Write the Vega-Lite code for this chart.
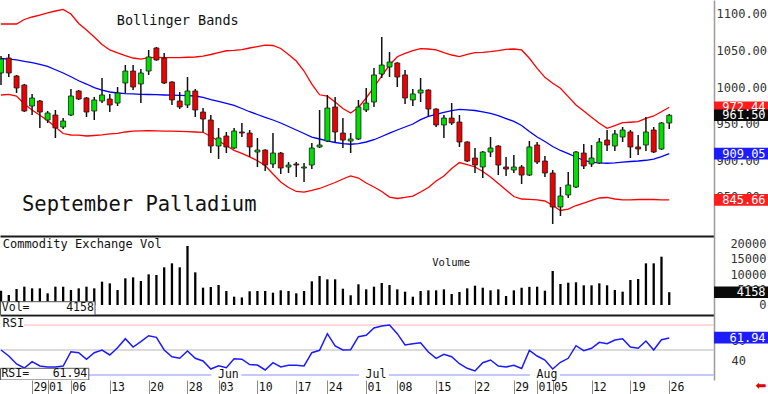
{
  "$schema": "https://vega.github.io/schema/vega-lite/v6.json",
  "padding": 0,
  "background": "white",
  "spacing": 0,
  "bounds": "flush",
  "config": {"view": {"stroke": null}, "font": "DejaVu Sans Mono", "text": {"font": "DejaVu Sans Mono"}, "scale": {"continuousPadding": 0}, "axisX": {"labelOverlap": false}},
  "resolve": {"scale": {"x": "independent", "y": "independent", "color": "independent", "strokeWidth": "independent"}},
  "datasets": {
    "d": [
{"k":0,"o":1019.3,"h":1042.5,"l":1002.9,"c":1038.4,"up":1086.3,"mid":1039.1,"lo":989.2,"vol":4650,"rsi":50},
{"k":1,"o":1039.8,"h":1045.3,"l":1013.8,"c":1019.3,"up":1086.3,"mid":1038.4,"lo":990.1,"vol":3250,"rsi":44},
{"k":2,"o":1015.2,"h":1016.6,"l":991.9,"c":998.8,"up":1086.3,"mid":1037.1,"lo":987.8,"vol":5200,"rsi":36},
{"k":3,"o":1002.9,"h":1004.3,"l":966,"c":967.3,"up":1092.5,"mid":1035.3,"lo":976.9,"vol":5950,"rsi":32},
{"k":4,"o":974.1,"h":990.6,"l":961.8,"c":985.1,"up":1095.9,"mid":1033.6,"lo":968.7,"vol":5410,"rsi":38.3},
{"k":5,"o":981,"h":982.4,"l":944.1,"c":965.9,"up":1098.6,"mid":1031.2,"lo":961.4,"vol":5410,"rsi":34},
{"k":6,"o":955,"h":967.3,"l":950.9,"c":964.6,"up":1101.4,"mid":1028.2,"lo":954.4,"vol":3790,"rsi":33},
{"k":7,"o":961.8,"h":968.7,"l":930.4,"c":944.1,"up":1104.1,"mid":1023.7,"lo":945.4,"vol":5950,"rsi":33},
{"k":8,"o":945.4,"h":957.7,"l":942.7,"c":953.6,"up":1106.2,"mid":1019.3,"lo":936.5,"vol":5950,"rsi":34},
{"k":9,"o":961.8,"h":997.4,"l":960.4,"c":987.8,"up":1100,"mid":1014.2,"lo":934.5,"vol":4870,"rsi":48.3},
{"k":10,"o":994.7,"h":996,"l":982.4,"c":983.7,"up":1087,"mid":1008.7,"lo":934.2,"vol":5410,"rsi":47.3},
{"k":11,"o":985.1,"h":986.5,"l":959.1,"c":965.9,"up":1078.1,"mid":1004.2,"lo":933.1,"vol":5950,"rsi":40.7},
{"k":12,"o":967.3,"h":986.5,"l":955,"c":982.4,"up":1068.5,"mid":999.2,"lo":933.8,"vol":5410,"rsi":47.3},
{"k":13,"o":981,"h":1012.5,"l":978.2,"c":989.2,"up":1058.3,"mid":996,"lo":934.5,"vol":7580,"rsi":50},
{"k":14,"o":983.7,"h":990.6,"l":965.9,"c":975.5,"up":1050.8,"mid":993.3,"lo":935.9,"vol":7030,"rsi":45},
{"k":15,"o":978.2,"h":1000.1,"l":974.1,"c":991.9,"up":1046.7,"mid":991.9,"lo":936.8,"vol":4870,"rsi":52.3},
{"k":16,"o":1005.6,"h":1030.2,"l":991.9,"c":1022,"up":1043,"mid":991.1,"lo":938.6,"vol":8660,"rsi":61.3},
{"k":17,"o":1022,"h":1030.2,"l":996,"c":1000.1,"up":1039.8,"mid":990.6,"lo":939.9,"vol":8980,"rsi":53},
{"k":18,"o":1004.3,"h":1024.8,"l":978.2,"c":1019.3,"up":1038.2,"mid":990.1,"lo":940.2,"vol":7790,"rsi":58.3},
{"k":19,"o":1022,"h":1050.8,"l":1016.6,"c":1041.2,"up":1040.4,"mid":989.9,"lo":940.3,"vol":9960,"rsi":64.3},
{"k":20,"o":1053.5,"h":1054.9,"l":1036,"c":1037.1,"up":1040.5,"mid":989.6,"lo":940.2,"vol":9740,"rsi":62.7},
{"k":21,"o":1039.8,"h":1046.7,"l":1004.3,"c":1005.6,"up":1040.2,"mid":989.2,"lo":939.9,"vol":12230,"rsi":50},
{"k":22,"o":1007,"h":1008,"l":975.5,"c":982.4,"up":1040.2,"mid":988.9,"lo":939.7,"vol":13530,"rsi":43.3},
{"k":23,"o":981,"h":993.3,"l":970,"c":972.8,"up":1040.2,"mid":988.6,"lo":939.4,"vol":12230,"rsi":41.7},
{"k":24,"o":975.5,"h":1013.8,"l":971.4,"c":994.7,"up":1040.8,"mid":988.4,"lo":939,"vol":19160,"rsi":49},
{"k":25,"o":994.7,"h":997.4,"l":959.1,"c":968.7,"up":1041.2,"mid":987.8,"lo":938.6,"vol":10600,"rsi":41.7},
{"k":26,"o":965.9,"h":971.4,"l":938.6,"c":956.3,"up":1042.5,"mid":985.8,"lo":938.2,"vol":5630,"rsi":39},
{"k":27,"o":955,"h":961.8,"l":909.8,"c":919.4,"up":1044.6,"mid":983,"lo":932.4,"vol":5840,"rsi":31},
{"k":28,"o":919.4,"h":944.1,"l":901.6,"c":930.4,"up":1047.3,"mid":980.6,"lo":926.3,"vol":6490,"rsi":34.3},
{"k":29,"o":933.1,"h":938.6,"l":909.8,"c":918.1,"up":1049.7,"mid":977.8,"lo":920.1,"vol":4550,"rsi":32.3},
{"k":30,"o":916.7,"h":944.1,"l":915.3,"c":939.9,"up":1050.3,"mid":975.1,"lo":913.5,"vol":2700,"rsi":41.3},
{"k":31,"o":938.6,"h":950.9,"l":931.7,"c":937.2,"up":1051.4,"mid":970.7,"lo":909.2,"vol":2450,"rsi":40.8},
{"k":32,"o":937.2,"h":941.3,"l":904.4,"c":918.1,"up":1053.5,"mid":966.3,"lo":904.6,"vol":4450,"rsi":35.5},
{"k":33,"o":911.2,"h":930.4,"l":890.7,"c":913.9,"up":1055.3,"mid":962.5,"lo":899.3,"vol":4550,"rsi":35},
{"k":34,"o":913.9,"h":915,"l":885.2,"c":893.4,"up":1057.3,"mid":958.7,"lo":892.7,"vol":4550,"rsi":30},
{"k":35,"o":894.8,"h":937.2,"l":889.3,"c":909.8,"up":1056.9,"mid":955,"lo":881.1,"vol":4000,"rsi":37.3},
{"k":36,"o":909.8,"h":911.2,"l":881.1,"c":889.3,"up":1052.8,"mid":950.9,"lo":870.2,"vol":4760,"rsi":33},
{"k":37,"o":890.7,"h":897.5,"l":882.5,"c":893.4,"up":1044.6,"mid":946.1,"lo":862.7,"vol":4550,"rsi":34.7},
{"k":38,"o":894.8,"h":897.5,"l":877,"c":893.4,"up":1035.7,"mid":941.3,"lo":857.2,"vol":3800,"rsi":34.7},
{"k":39,"o":889.3,"h":896.2,"l":870.2,"c":890.7,"up":1022,"mid":936.5,"lo":856.2,"vol":4550,"rsi":34},
{"k":40,"o":893.4,"h":923.5,"l":887.9,"c":916.7,"up":1004.2,"mid":931.7,"lo":858.6,"vol":7690,"rsi":47.3},
{"k":41,"o":918.1,"h":968.7,"l":916.7,"c":920.8,"up":989.5,"mid":929,"lo":861.3,"vol":9420,"rsi":49.7},
{"k":42,"o":926.3,"h":989.2,"l":924.9,"c":971.4,"up":987.5,"mid":926.3,"lo":865.4,"vol":8340,"rsi":66.3},
{"k":43,"o":972.8,"h":986.5,"l":924.9,"c":938.6,"up":979.6,"mid":924.2,"lo":869.5,"vol":8340,"rsi":54},
{"k":44,"o":937.2,"h":957.7,"l":916.7,"c":927.6,"up":970.7,"mid":922.8,"lo":874.3,"vol":5300,"rsi":50},
{"k":45,"o":926.3,"h":937.2,"l":909.8,"c":929,"up":964.6,"mid":921.8,"lo":878.4,"vol":3150,"rsi":50.3},
{"k":46,"o":929,"h":982.4,"l":927.6,"c":972.8,"up":972.1,"mid":922.8,"lo":875.6,"vol":6720,"rsi":63.3},
{"k":47,"o":968.7,"h":998.8,"l":965.9,"c":978.2,"up":985.1,"mid":924.9,"lo":868.8,"vol":5090,"rsi":64.7},
{"k":48,"o":979.6,"h":1026.1,"l":972.8,"c":1016.6,"up":1000.1,"mid":928,"lo":863.3,"vol":5950,"rsi":72},
{"k":49,"o":1017.9,"h":1068.5,"l":1012.5,"c":1030.2,"up":1015.2,"mid":932.4,"lo":857.2,"vol":7140,"rsi":74},
{"k":50,"o":1027.5,"h":1048,"l":1013.8,"c":1034.3,"up":1030.2,"mid":936.9,"lo":849.6,"vol":6490,"rsi":75},
{"k":51,"o":1033,"h":1034,"l":1000.1,"c":1013.8,"up":1041.6,"mid":941.3,"lo":847.6,"vol":5090,"rsi":66.3},
{"k":52,"o":1016.6,"h":1023.4,"l":976.9,"c":985.1,"up":1046.2,"mid":945.4,"lo":849,"vol":4330,"rsi":55},
{"k":53,"o":982.4,"h":997.4,"l":974.1,"c":990.6,"up":1049.8,"mid":949.5,"lo":851,"vol":2700,"rsi":56.3},
{"k":54,"o":991.9,"h":1012.5,"l":979.6,"c":996,"up":1052.5,"mid":955.4,"lo":856.5,"vol":4550,"rsi":57.3},
{"k":55,"o":996,"h":997,"l":960.4,"c":970,"up":1052.1,"mid":959.8,"lo":862.7,"vol":4760,"rsi":48},
{"k":56,"o":970,"h":971,"l":945.4,"c":948.2,"up":1050.8,"mid":962.8,"lo":871.5,"vol":4760,"rsi":41.7},
{"k":57,"o":948.2,"h":961.8,"l":930.4,"c":957.7,"up":1047.1,"mid":965.5,"lo":878.4,"vol":5090,"rsi":45.7},
{"k":58,"o":957.7,"h":978.2,"l":948.2,"c":950.9,"up":1043.9,"mid":967.7,"lo":888.6,"vol":3570,"rsi":43.3},
{"k":59,"o":952.2,"h":961.8,"l":918.1,"c":924.9,"up":1041.6,"mid":969.5,"lo":896.8,"vol":4220,"rsi":36.3},
{"k":60,"o":924.9,"h":926,"l":897.5,"c":898.9,"up":1044.9,"mid":968.9,"lo":894.1,"vol":5410,"rsi":31.7},
{"k":61,"o":903,"h":916.7,"l":882.5,"c":893.4,"up":1047.1,"mid":968,"lo":890.7,"vol":6270,"rsi":29},
{"k":62,"o":890.7,"h":912.6,"l":875.6,"c":911.2,"up":1047.6,"mid":966.2,"lo":884.5,"vol":5620,"rsi":37.3},
{"k":63,"o":911.2,"h":931.7,"l":904.4,"c":916.7,"up":1048.4,"mid":963.9,"lo":877,"vol":4760,"rsi":40},
{"k":64,"o":919.4,"h":920.5,"l":879.7,"c":893.4,"up":1049.8,"mid":961.1,"lo":868.1,"vol":5090,"rsi":34},
{"k":65,"o":890.7,"h":904.4,"l":878.4,"c":887.9,"up":1051.7,"mid":957,"lo":859.2,"vol":2920,"rsi":33},
{"k":66,"o":886.6,"h":907.1,"l":882.5,"c":890.7,"up":1052.1,"mid":953,"lo":850.3,"vol":4760,"rsi":34.7},
{"k":67,"o":890.7,"h":893.4,"l":867.4,"c":879.7,"up":1050.8,"mid":947.4,"lo":846.9,"vol":5600,"rsi":31.5},
{"k":68,"o":879.7,"h":926.3,"l":878.4,"c":918.1,"up":1039.4,"mid":939.3,"lo":846.4,"vol":5900,"rsi":49.5},
{"k":69,"o":920.8,"h":924.9,"l":894.8,"c":897.5,"up":1025.7,"mid":931.7,"lo":845.8,"vol":5950,"rsi":44},
{"k":70,"o":898.9,"h":905.8,"l":877,"c":882.5,"up":1013.4,"mid":925.6,"lo":844.2,"vol":4650,"rsi":40},
{"k":71,"o":882.5,"h":886.6,"l":812.7,"c":836,"up":1005.2,"mid":918.7,"lo":838,"vol":11040,"rsi":31},
{"k":72,"o":836,"h":863.3,"l":823.7,"c":851,"up":998.4,"mid":913.3,"lo":831.2,"vol":6820,"rsi":37.7},
{"k":73,"o":852.4,"h":883.8,"l":848.3,"c":866.1,"up":986.9,"mid":908.9,"lo":833.2,"vol":7250,"rsi":41.7},
{"k":74,"o":863.3,"h":912.6,"l":862,"c":911.2,"up":975.5,"mid":904.4,"lo":838,"vol":7360,"rsi":54.3},
{"k":75,"o":909.8,"h":922.2,"l":887.9,"c":892.1,"up":967.3,"mid":899.6,"lo":841.4,"vol":6390,"rsi":49.3},
{"k":76,"o":894.8,"h":920.8,"l":890.7,"c":903,"up":958.7,"mid":897.5,"lo":844.9,"vol":6390,"rsi":51.7},
{"k":77,"o":896.2,"h":930.4,"l":895,"c":924.9,"up":950.5,"mid":896.4,"lo":848.3,"vol":7030,"rsi":57.7},
{"k":78,"o":927.6,"h":941.3,"l":912.6,"c":920.8,"up":943.6,"mid":895.8,"lo":849,"vol":6390,"rsi":56.3},
{"k":79,"o":919.4,"h":941.3,"l":912.6,"c":935.9,"up":947.2,"mid":896.4,"lo":846.9,"vol":4870,"rsi":60},
{"k":80,"o":931.7,"h":945.4,"l":924.9,"c":941.3,"up":951.3,"mid":897.3,"lo":845.6,"vol":4330,"rsi":61.3},
{"k":81,"o":938.6,"h":941.3,"l":903,"c":918.1,"up":951.9,"mid":898.2,"lo":845.8,"vol":8120,"rsi":53},
{"k":82,"o":918.1,"h":934.5,"l":907.1,"c":915.3,"up":952.7,"mid":898.9,"lo":846.2,"vol":8440,"rsi":51.7},
{"k":83,"o":920.8,"h":959.1,"l":912.6,"c":938.6,"up":957.3,"mid":899.9,"lo":846.5,"vol":13530,"rsi":59},
{"k":84,"o":941.3,"h":945.4,"l":909.8,"c":911.2,"up":960.5,"mid":901.6,"lo":846.2,"vol":13530,"rsi":50},
{"k":85,"o":915.3,"h":952.2,"l":913.9,"c":950.9,"up":966.3,"mid":904.8,"lo":845.6,"vol":15690,"rsi":60.3},
{"k":86,"o":950.9,"h":963.2,"l":942.7,"c":961.5,"up":972.44,"mid":909.05,"lo":845.66,"vol":4158,"rsi":61.94}
    ],
    "pricelab": [
      {"lab": "972.44", "v": 972.44, "kind": "upper"},
      {"lab": "961.50", "v": 961.5, "kind": "last"},
      {"lab": "909.05", "v": 909.05, "kind": "mid"},
      {"lab": "845.66", "v": 845.66, "kind": "lower"}
    ],
    "months": [
      {"k": 29, "m": "Jun"},
      {"k": 48, "m": "Jul"},
      {"k": 70, "m": "Aug"}
    ],
    "levels": [{"lvl": 75}, {"lvl": 50}, {"lvl": 25}],
    "one": [{}]
  },
  "vconcat": [
    {
      "width": 714,
      "height": 236,
      "layer": [
        {
          "data": {"name": "d"},
          "mark": {"type": "line", "color": "#ff0000", "strokeWidth": 1.3, "clip": true},
          "encoding": {
            "x": {"field": "k", "type": "quantitative", "title": null,
              "scale": {"domain": [-0.13, 91.76], "nice": false, "zero": false, "padding": 0},
              "axis": {"orient": "bottom", "domain": true, "domainColor": "#1a1a1a", "domainWidth": 2, "ticks": false, "labels": false, "grid": false, "title": null}},
            "y": {"field": "up", "type": "quantitative", "title": null,
              "scale": {"domain": [796.3, 1119.15], "nice": false, "zero": false, "padding": 0},
              "axis": {"orient": "right", "values": [850, 900, 950, 1000, 1050, 1100], "tickCount": 50, "format": ".2f", "labelAlign": "left", "labelBaseline": "middle", "labelPadding": 2, "ticks": false, "tickSize": 0, "domainColor": "#9a9a9a", "domainWidth": 1.5, "grid": false, "title": null, "labelFontSize": 12, "labelColor": "#333333", "labelFont": "DejaVu Sans Mono"}}
          }
        },
        {
          "data": {"name": "d"},
          "mark": {"type": "line", "color": "#ff0000", "strokeWidth": 1.3, "clip": true},
          "encoding": {
            "x": {"field": "k", "type": "quantitative", "title": null},
            "y": {"field": "lo", "type": "quantitative", "title": null}
          }
        },
        {
          "data": {"name": "d"},
          "mark": {"type": "line", "color": "#0000ff", "strokeWidth": 1.3, "clip": true},
          "encoding": {
            "x": {"field": "k", "type": "quantitative", "title": null},
            "y": {"field": "mid", "type": "quantitative", "title": null}
          }
        },
        {
          "data": {"name": "d"},
          "mark": {"type": "rule", "color": "#111111", "strokeWidth": 1.5, "clip": true},
          "encoding": {
            "x": {"field": "k", "type": "quantitative", "title": null},
            "y": {"field": "l", "type": "quantitative", "title": null},
            "y2": {"field": "h"}
          }
        },
        {
          "data": {"name": "d"},
          "mark": {"type": "bar", "width": 5, "stroke": "#1a1a1a", "strokeWidth": 0.8, "clip": true},
          "encoding": {
            "x": {"field": "k", "type": "quantitative", "title": null},
            "y": {"field": "o", "type": "quantitative", "title": null},
            "y2": {"field": "c"},
            "fill": {"condition": {"test": "datum.c >= datum.o", "value": "#00e000"}, "value": "#ee0000"}
          }
        },
        {
          "data": {"name": "one"},
          "mark": {"type": "text", "align": "left", "baseline": "middle", "fontSize": 13.5, "color": "#111111", "font": "DejaVu Sans Mono"},
          "encoding": {
            "x": {"datum": 14.9, "type": "quantitative"},
            "y": {"datum": 1090.4, "type": "quantitative"},
            "text": {"value": "Bollinger Bands"}
          }
        },
        {
          "data": {"name": "one"},
          "mark": {"type": "text", "align": "left", "baseline": "middle", "fontSize": 20.5, "color": "#111111", "font": "DejaVu Sans Mono"},
          "encoding": {
            "x": {"datum": 2.7, "type": "quantitative"},
            "y": {"datum": 838.7, "type": "quantitative"},
            "text": {"value": "September Palladium"}
          }
        },
        {
          "data": {"name": "pricelab"},
          "mark": {"type": "tick", "orient": "horizontal", "size": 54, "thickness": 11.6, "opacity": 1},
          "encoding": {
            "x": {"datum": 95.24, "type": "quantitative"},
            "y": {"field": "v", "type": "quantitative", "title": null},
            "color": {"field": "kind", "type": "nominal", "legend": null,
              "scale": {"domain": ["upper", "last", "mid", "lower"], "range": ["#ff1c1c", "#0a0a0a", "#1c1cff", "#ff1c1c"]}}
          }
        },
        {
          "data": {"name": "pricelab"},
          "mark": {"type": "text", "align": "right", "baseline": "middle", "fontSize": 12, "color": "white", "font": "DejaVu Sans Mono"},
          "encoding": {
            "x": {"datum": 98.4, "type": "quantitative"},
            "y": {"field": "v", "type": "quantitative", "title": null},
            "text": {"field": "lab"}
          }
        }
      ]
    },
    {
      "width": 714,
      "height": 79,
      "layer": [
        {
          "data": {"name": "d"},
          "mark": {"type": "bar", "width": 2.3, "color": "#000000", "clip": true},
          "encoding": {
            "x": {"field": "k", "type": "quantitative", "title": null,
              "scale": {"domain": [-0.13, 91.76], "nice": false, "zero": false, "padding": 0},
              "axis": {"orient": "bottom", "domain": true, "domainColor": "#1a1a1a", "domainWidth": 2, "ticks": false, "labels": false, "grid": false, "title": null}},
            "y": {"field": "vol", "type": "quantitative", "title": null,
              "scale": {"domain": [-3247, 22404], "nice": false, "zero": false, "padding": 0},
              "axis": {"orient": "right", "values": [0, 5000, 10000, 15000, 20000], "tickCount": 50, "format": "d", "labelAlign": "right", "labelBaseline": "middle", "labelPadding": 52, "ticks": false, "tickSize": 0, "domainColor": "#9a9a9a", "domainWidth": 1.5, "grid": false, "title": null, "labelFontSize": 12, "labelColor": "#333333", "labelFont": "DejaVu Sans Mono"}}
          }
        },
        {
          "data": {"name": "one"},
          "mark": {"type": "text", "align": "left", "baseline": "middle", "fontSize": 12, "color": "#111111", "font": "DejaVu Sans Mono"},
          "encoding": {
            "x": {"datum": 0.22, "type": "quantitative"},
            "y": {"datum": 19800, "type": "quantitative"},
            "text": {"value": "Commodity Exchange Vol"}
          }
        },
        {
          "data": {"name": "one"},
          "mark": {"type": "text", "align": "left", "baseline": "middle", "fontSize": 10.5, "color": "#111111", "font": "DejaVu Sans Mono"},
          "encoding": {
            "x": {"datum": 55.5, "type": "quantitative"},
            "y": {"datum": 13637, "type": "quantitative"},
            "text": {"value": "Volume"}
          }
        },
        {
          "data": {"name": "one"},
          "mark": {"type": "rect", "fill": "white", "stroke": "#555555", "strokeWidth": 1, "clip": true},
          "encoding": {
            "x": {"datum": -0.06, "type": "quantitative"},
            "x2": {"datum": 12.1},
            "y": {"datum": 1072, "type": "quantitative"},
            "y2": {"datum": -3247}
          }
        },
        {
          "data": {"name": "one"},
          "mark": {"type": "text", "align": "left", "baseline": "middle", "fontSize": 11.5, "color": "#111111", "font": "DejaVu Sans Mono"},
          "encoding": {
            "x": {"datum": 0.1, "type": "quantitative"},
            "y": {"datum": -1071, "type": "quantitative"},
            "text": {"value": "Vol="}
          }
        },
        {
          "data": {"name": "one"},
          "mark": {"type": "text", "align": "right", "baseline": "middle", "fontSize": 11.5, "color": "#111111", "font": "DejaVu Sans Mono"},
          "encoding": {
            "x": {"datum": 11.95, "type": "quantitative"},
            "y": {"datum": -1071, "type": "quantitative"},
            "text": {"value": "4158"}
          }
        },
        {
          "data": {"name": "one"},
          "mark": {"type": "tick", "orient": "horizontal", "size": 54, "thickness": 11.6, "color": "#0a0a0a", "opacity": 1},
          "encoding": {
            "x": {"datum": 95.24, "type": "quantitative"},
            "y": {"datum": 4158, "type": "quantitative"}
          }
        },
        {
          "data": {"name": "one"},
          "mark": {"type": "text", "align": "right", "baseline": "middle", "fontSize": 12, "color": "white", "font": "DejaVu Sans Mono"},
          "encoding": {
            "x": {"datum": 98.4, "type": "quantitative"},
            "y": {"datum": 4158, "type": "quantitative"},
            "text": {"value": "4158"}
          }
        }
      ]
    },
    {
      "width": 714,
      "height": 65,
      "layer": [
        {
          "data": {"name": "levels"},
          "mark": {"type": "rule", "clip": true},
          "encoding": {
            "y": {"field": "lvl", "type": "quantitative", "title": null,
              "scale": {"domain": [20, 85], "nice": false, "zero": false, "padding": 0},
              "axis": {"orient": "right", "values": [40, 60], "tickCount": 50, "labelAlign": "left", "labelBaseline": "middle", "labelPadding": 17, "ticks": false, "tickSize": 0, "domainColor": "#9a9a9a", "domainWidth": 1.5, "grid": false, "title": null, "labelFontSize": 12, "labelColor": "#333333", "labelFont": "DejaVu Sans Mono"}},
            "color": {"field": "lvl", "type": "nominal", "legend": null, "scale": {"domain": [75, 50, 25], "range": ["#ffb4b4", "#cfcfcf", "#c4c8ff"]}},
            "strokeWidth": {"field": "lvl", "type": "nominal", "legend": null, "scale": {"domain": [75, 50, 25], "range": [1, 2.2, 1.6]}}
          }
        },
        {
          "data": {"name": "d"},
          "mark": {"type": "line", "color": "#1a1aff", "strokeWidth": 1.5, "clip": true},
          "encoding": {
            "x": {"field": "k", "type": "quantitative", "title": null,
              "scale": {"domain": [-0.13, 91.76], "nice": false, "zero": false, "padding": 0},
              "axis": {"orient": "bottom", "values": [5, 7, 10, 15, 20, 25, 29, 34, 39, 43, 48, 52, 57, 62, 67, 70, 72, 77, 82, 87], "tickCount": 100,
                "labelExpr": "['29','01','06','13','20','28','03','10','17','24','01','08','15','22','29','01','05','12','19','26'][indexof([5,7,10,15,20,25,29,34,39,43,48,52,57,62,67,70,72,77,82,87], datum.value)]",
                "domain": false, "ticks": true, "tickSize": 14, "tickColor": "#8a8a8a", "tickWidth": 1, "tickOffset": -7.77, "labelOffset": 7.77,
                "labelPadding": -6.5, "labelBaseline": "middle", "labelAlign": "center", "labelFontSize": 11.5, "labelColor": "#111111", "labelFont": "DejaVu Sans Mono",
                "labelOverlap": false, "labelFlush": false, "labelBound": false, "grid": false, "title": null}},
            "y": {"field": "rsi", "type": "quantitative", "title": null}
          }
        },
        {
          "data": {"name": "one"},
          "mark": {"type": "tick", "orient": "horizontal", "size": 24, "thickness": 11, "color": "white", "opacity": 1, "clip": true},
          "encoding": {
            "x": {"datum": 1.4, "type": "quantitative"},
            "y": {"datum": 76.7, "type": "quantitative"}
          }
        },
        {
          "data": {"name": "one"},
          "mark": {"type": "text", "align": "left", "baseline": "middle", "fontSize": 12, "color": "#111111", "font": "DejaVu Sans Mono"},
          "encoding": {
            "x": {"datum": 0.2, "type": "quantitative"},
            "y": {"datum": 76.7, "type": "quantitative"},
            "text": {"value": "RSI"}
          }
        },
        {
          "data": {"name": "months"},
          "mark": {"type": "tick", "orient": "horizontal", "size": 30, "thickness": 10, "color": "white", "opacity": 1},
          "encoding": {
            "x": {"field": "k", "type": "quantitative", "title": null},
            "y": {"datum": 25, "type": "quantitative"}
          }
        },
        {
          "data": {"name": "months"},
          "mark": {"type": "text", "align": "center", "baseline": "middle", "fontSize": 11.5, "color": "#111111", "font": "DejaVu Sans Mono", "dx": 2},
          "encoding": {
            "x": {"field": "k", "type": "quantitative", "title": null},
            "y": {"datum": 25.5, "type": "quantitative"},
            "text": {"field": "m"}
          }
        },
        {
          "data": {"name": "one"},
          "mark": {"type": "rect", "fill": "white", "stroke": "#555555", "strokeWidth": 1, "clip": true},
          "encoding": {
            "x": {"datum": -0.06, "type": "quantitative"},
            "x2": {"datum": 11.3},
            "y": {"datum": 31.7, "type": "quantitative"},
            "y2": {"datum": 20}
          }
        },
        {
          "data": {"name": "one"},
          "mark": {"type": "text", "align": "left", "baseline": "middle", "fontSize": 11.5, "color": "#111111", "font": "DejaVu Sans Mono"},
          "encoding": {
            "x": {"datum": 0.05, "type": "quantitative"},
            "y": {"datum": 26.2, "type": "quantitative"},
            "text": {"value": "RSI="}
          }
        },
        {
          "data": {"name": "one"},
          "mark": {"type": "text", "align": "right", "baseline": "middle", "fontSize": 11.5, "color": "#111111", "font": "DejaVu Sans Mono"},
          "encoding": {
            "x": {"datum": 11.1, "type": "quantitative"},
            "y": {"datum": 26.2, "type": "quantitative"},
            "text": {"value": "61.94"}
          }
        },
        {
          "data": {"name": "one"},
          "mark": {"type": "tick", "orient": "horizontal", "size": 54, "thickness": 11.6, "color": "#1c1cff", "opacity": 1},
          "encoding": {
            "x": {"datum": 95.24, "type": "quantitative"},
            "y": {"datum": 62.4, "type": "quantitative"}
          }
        },
        {
          "data": {"name": "one"},
          "mark": {"type": "text", "align": "right", "baseline": "middle", "fontSize": 12, "color": "white", "font": "DejaVu Sans Mono"},
          "encoding": {
            "x": {"datum": 98.4, "type": "quantitative"},
            "y": {"datum": 62.4, "type": "quantitative"},
            "text": {"value": "61.94"}
          }
        },
        {
          "data": {"name": "one"},
          "mark": {"type": "text", "align": "center", "baseline": "middle", "fontSize": 13, "color": "#e00000", "font": "DejaVu Sans"},
          "encoding": {
            "x": {"datum": 97.8, "type": "quantitative"},
            "y": {"datum": 14, "type": "quantitative"},
            "text": {"value": "⬅"}
          }
        }
      ]
    }
  ]
}
